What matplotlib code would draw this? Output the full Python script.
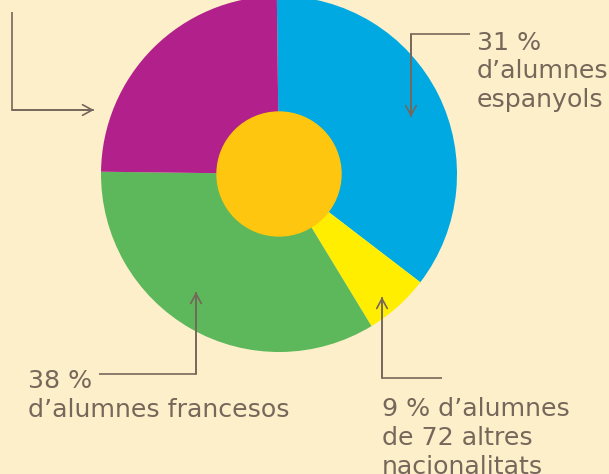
import matplotlib
matplotlib.use("Agg")
import matplotlib.pyplot as plt
from matplotlib.patches import Circle

# slice order: clockwise from the top
groups = ["espanyols", "altres nacionalitats", "francesos", "altres"]
shares = [35.6, 5.9, 33.9, 24.6]   # angular share as drawn
colors = ["#00a9e2", "#ffee00", "#5cb85a", "#b1208b"]

label_es = "31 %\nd\u2019alumnes\nespanyols"
label_fr = "38 %\nd\u2019alumnes francesos"
label_ot = "9 % d\u2019alumnes\nde 72 altres\nnacionalitats"

bg = "#fdefca"
ink = "#76675b"

W, H = 609, 474
fig = plt.figure(figsize=(W / 100, H / 100), dpi=100, facecolor=bg)
ax = fig.add_axes([0, 0, 1, 1])
ax.set_xlim(0, W)
ax.set_ylim(0, H)
ax.set_aspect("equal")
ax.axis("off")

cx, cy, r = 279, H - 174, 178
ax.pie(shares, colors=colors, startangle=90.7, counterclock=False,
       center=(cx, cy), radius=r, frame=True,
       wedgeprops=dict(linewidth=0))
ax.add_patch(Circle((cx, cy), 62, color="#fec60f", zorder=3))
ax.set_xlim(0, W)
ax.set_ylim(0, H)
ax.axis("off")


def connector(pts):
    # pts in pixel coords from top-left; last point gets an open arrow head
    xs = [p[0] for p in pts]
    ys = [H - p[1] for p in pts]
    ax.plot(xs, ys, color=ink, lw=1.2, solid_capstyle="butt", zorder=5)
    ax.annotate("", xy=(xs[-1], ys[-1]), xytext=(xs[-2], ys[-2]),
                arrowprops=dict(arrowstyle="->,head_length=0.7,head_width=0.38",
                                color=ink, lw=1.2, shrinkA=0, shrinkB=0),
                zorder=5)


connector([(12, 12), (12, 110), (94, 110)])
connector([(470, 34), (411, 34), (411, 117)])
connector([(99, 374), (196, 374), (196, 292)])
connector([(442, 378), (382, 378), (382, 297)])

# va="baseline" on multi-line text anchors the last line's baseline
font = dict(family=["DejaVu Sans"], fontsize=18.2, color=ink,
            linespacing=1.25, va="baseline", ha="left")
ax.text(477, H - 107, label_es, **font)
ax.text(28, H - 417, label_fr, **font)
ax.text(382, H - 474, label_ot, **font)

fig.savefig("out.png", dpi=100, facecolor=bg)
